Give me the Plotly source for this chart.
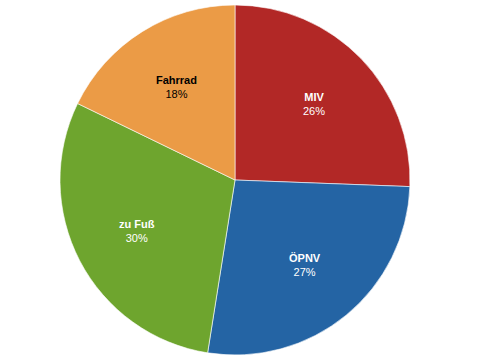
import math
import plotly.graph_objects as go

labels = ["MIV", "ÖPNV", "zu Fuß", "Fahrrad"]
values = [25.6, 26.9, 29.7, 17.8]
colors = ["#b22826", "#2464a4", "#6ea52e", "#eb9b46"]
text_colors = ["white", "white", "white", "black"]

W, H = 480, 360
dom_x = [60 / W, 410 / W]
dom_y = [5 / H, 355 / H]

fig = go.Figure(go.Pie(
    labels=labels,
    values=values,
    sort=False,
    direction="clockwise",
    rotation=0,
    marker=dict(colors=colors, line=dict(color="rgba(255,255,255,0.6)", width=1)),
    textinfo="none",
    hoverinfo="label+percent",
    domain=dict(x=dom_x, y=dom_y),
    showlegend=False,
))

# label placement along each slice bisector, ~0.63 of the radius
cx = (dom_x[0] + dom_x[1]) / 2 * W
cy = (dom_y[0] + dom_y[1]) / 2 * H
R = min((dom_x[1] - dom_x[0]) * W, (dom_y[1] - dom_y[0]) * H) / 2
total = sum(values)
cum = 0.0
annotations = []
for lab, val, tc in zip(labels, values, text_colors):
    mid = (cum + val / 2) / total * 2 * math.pi
    cum += val
    px = cx + 0.63 * R * math.sin(mid)
    py = cy + 0.63 * R * math.cos(mid)
    annotations.append(dict(
        x=px / W, y=py / H, xref="paper", yref="paper",
        xanchor="center", yanchor="middle", showarrow=False,
        text=f"<b>{lab}</b><br>{round(val / total * 100)}%",
        font=dict(family="Liberation Sans, Arial, sans-serif", size=11, color=tc),
    ))

fig.update_layout(
    width=W, height=H,
    margin=dict(l=0, r=0, t=0, b=0),
    paper_bgcolor="white",
    plot_bgcolor="white",
    annotations=annotations,
)
fig.write_html("out.html")
